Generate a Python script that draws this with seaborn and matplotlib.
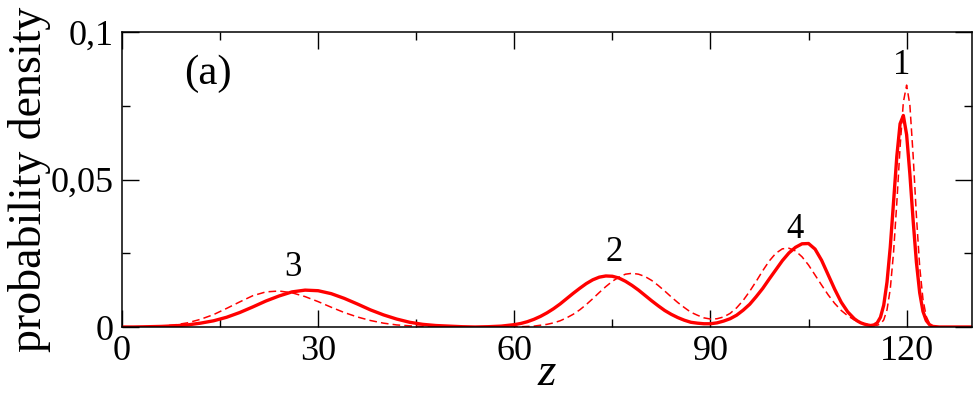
import numpy as np
import pandas as pd
import seaborn as sns
import matplotlib
matplotlib.use("Agg")
import matplotlib.pyplot as plt
from matplotlib.ticker import FixedLocator, FixedFormatter

# ---- data ----
z_grid = np.concatenate([np.arange(0, 61, 2), np.arange(61, 112),
                         np.arange(112, 125.5, 0.5), [126, 128, 130]])

solid_density = [
    # z = 0..60 step 2
    0.0, 0.0, 0.0001, 0.0002, 0.0004, 0.0007, 0.0013, 0.0021, 0.0033, 0.0049,
    0.0068, 0.0088, 0.0105, 0.0119, 0.0125, 0.0123, 0.0113, 0.0097, 0.0078, 0.0058,
    0.0041, 0.0027, 0.0016, 0.0009, 0.0005, 0.0003, 0.0001, 0.0, 0.0001, 0.0003,
    0.0008,
    # z = 61..111 step 1
    0.0012, 0.0018, 0.0026, 0.0036, 0.0048, 0.0062, 0.0078, 0.0096, 0.0114, 0.0131,
    0.0147, 0.0160, 0.0169, 0.0173, 0.0172, 0.0166, 0.0155, 0.0141, 0.0125, 0.0107,
    0.0089, 0.0072, 0.0056, 0.0043, 0.0032, 0.0023, 0.0016, 0.0013, 0.0011, 0.0011,
    0.0014, 0.0020, 0.0028, 0.0040, 0.0057, 0.0077, 0.0103, 0.0131, 0.0163, 0.0194,
    0.0225, 0.0251, 0.0270, 0.0282, 0.0283, 0.0264, 0.0226, 0.0177, 0.0128, 0.0084,
    0.0051,
    # z = 112..125 step 0.5
    0.0028, 0.0020, 0.0014, 0.0010, 0.0007, 0.0005, 0.0007, 0.0014, 0.0033, 0.0074,
    0.0152, 0.0271, 0.0423, 0.0578, 0.0689, 0.0717, 0.0652, 0.0518, 0.0360, 0.0219,
    0.0116, 0.0053, 0.0022, 0.0008, 0.0002, 0.0001, 0.0,
    # z = 126, 128, 130
    0.0, 0.0, 0.0,
]

dashed_density = [
    # z = 0..60 step 2
    0.0, 0.0001, 0.0001, 0.0003, 0.0007, 0.0014, 0.0026, 0.0042, 0.0063, 0.0085,
    0.0106, 0.0119, 0.0122, 0.0116, 0.0103, 0.0086, 0.0067, 0.0049, 0.0034, 0.0022,
    0.0013, 0.0007, 0.0004, 0.0002, 0.0001, 0.0, 0.0, 0.0, 0.0, 0.0,
    0.0001,
    # z = 61..111 step 1
    0.0001, 0.0002, 0.0003, 0.0006, 0.0009, 0.0014, 0.0021, 0.0031, 0.0043, 0.0058,
    0.0076, 0.0096, 0.0117, 0.0137, 0.0155, 0.0169, 0.0179, 0.0182, 0.0179, 0.0171,
    0.0158, 0.0141, 0.0122, 0.0102, 0.0083, 0.0066, 0.0050, 0.0040, 0.0031, 0.0027,
    0.0028, 0.0034, 0.0046, 0.0065, 0.0090, 0.0121, 0.0155, 0.0191, 0.0224, 0.0250,
    0.0265, 0.0267, 0.0258, 0.0238, 0.0210, 0.0176, 0.0142, 0.0109, 0.0080, 0.0056,
    0.0038,
    # z = 112..125 step 0.5
    0.0024, 0.0019, 0.0015, 0.0011, 0.0009, 0.0007, 0.0005, 0.0006, 0.0010, 0.0024,
    0.0058, 0.0129, 0.0252, 0.0421, 0.0610, 0.0762, 0.0820, 0.0752, 0.0580, 0.0376,
    0.0204, 0.0094, 0.0036, 0.0012, 0.0003, 0.0001, 0.0,
    # z = 126, 128, 130
    0.0, 0.0, 0.0,
]

peak_labels = ["1", "2", "3", "4"]
peak_label_z = [119.3, 75.2, 26.1, 102.9]
peak_label_y = [0.0888, 0.0251, 0.0203, 0.0332]

x_ticks = [0, 30, 60, 90, 120]
x_minor = [15, 45, 75, 105]
y_ticks = [0, 0.05, 0.1]
y_tick_labels = ["0", "0,05", "0,1"]
y_minor = [0.025, 0.075]

# ---- styling ----
sns.set_theme(style="ticks")
plt.rcParams["font.family"] = ["Liberation Serif", "DejaVu Serif"]
plt.rcParams["text.color"] = "black"
plt.rcParams["axes.labelcolor"] = "black"
plt.rcParams["xtick.color"] = "black"
plt.rcParams["ytick.color"] = "black"

df_solid = pd.DataFrame({"z": z_grid, "density": solid_density})
df_dashed = pd.DataFrame({"z": z_grid, "density": dashed_density})

fig = plt.figure(figsize=(9.75, 3.97), dpi=100)
ax = fig.add_axes([122 / 975, 1 - 327 / 397, 850 / 975, 295 / 397])

sns.lineplot(data=df_dashed, x="z", y="density", ax=ax, color="#ff0000",
             linewidth=1.1, estimator=None, sort=False)
ax.lines[-1].set_linestyle((0, (5, 2.7)))
sns.lineplot(data=df_solid, x="z", y="density", ax=ax, color="#ff0000",
             linewidth=2.4, estimator=None, sort=False)

ax.set_xlim(0, 130)
ax.set_ylim(0, 0.1)

ax.xaxis.set_major_locator(FixedLocator(x_ticks))
ax.xaxis.set_minor_locator(FixedLocator(x_minor))
ax.yaxis.set_major_locator(FixedLocator(y_ticks))
ax.yaxis.set_major_formatter(FixedFormatter(y_tick_labels))
ax.yaxis.set_minor_locator(FixedLocator(y_minor))

ax.tick_params(which="both", direction="in", top=True, right=True,
               colors="black", labelcolor="black", width=1.0)
ax.tick_params(which="major", length=12, labelsize=26, pad=6)
ax.tick_params(which="minor", length=6)

for sp in ax.spines.values():
    sp.set_visible(True)
    sp.set_color("black")
    sp.set_linewidth(1.1)

ax.set_xlabel("z", fontsize=34, fontstyle="italic", color="black")
ax.xaxis.label.set_va("bottom")
ax.set_ylabel("probability density", fontsize=33, color="black")
ax.xaxis.set_label_coords(0.5, (327 - 395) / 295)
ax.yaxis.set_label_coords(-0.0835, 0.5)

ax.text(13.2, 0.0858, "(a)", fontsize=31, ha="center", va="center", color="black")
for lab, xz, yz in zip(peak_labels, peak_label_z, peak_label_y):
    ax.text(xz, yz, lab, fontsize=25, ha="center", va="center", color="black")

fig.savefig("out.png", dpi=100)
